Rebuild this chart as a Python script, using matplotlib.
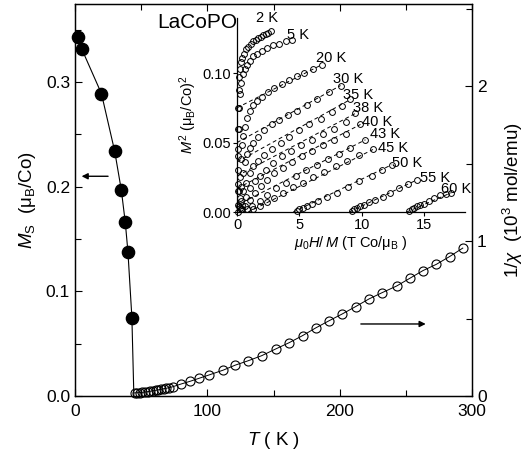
import matplotlib
matplotlib.use("Agg")
import matplotlib.pyplot as plt
import numpy as np

plt.rcParams['font.family'] = ['Liberation Sans', 'DejaVu Sans']
plt.rcParams['mathtext.fontset'] = 'custom'
plt.rcParams['mathtext.rm'] = 'Liberation Sans'
plt.rcParams['mathtext.it'] = 'Liberation Sans:italic'
plt.rcParams['mathtext.bf'] = 'Liberation Sans:bold'

# ---------------- data ----------------
# spontaneous moment Ms (left axis)
Ms_T = [2, 5, 20, 30, 35, 38, 40, 43]
Ms_val = [0.343, 0.332, 0.289, 0.234, 0.197, 0.166, 0.138, 0.075]
Ms_end_T = 44.5
Ms_end_val = 0.0

# inverse susceptibility (right axis, 10^3 mol/emu)
chi_T = [45, 47, 49, 51, 53, 55, 57, 59, 61, 63, 65, 67, 69, 71, 74, 80, 87, 94,
         101, 112, 121, 131, 141, 152, 162, 172, 182, 192, 202, 212, 222, 232,
         243, 253, 263, 273, 283, 293]
chi_inv = [0.020, 0.021, 0.022, 0.024, 0.026, 0.028, 0.031, 0.034, 0.037, 0.040,
           0.043, 0.047, 0.050, 0.054, 0.060, 0.077, 0.095, 0.115, 0.135, 0.167,
           0.199, 0.228, 0.260, 0.305, 0.345, 0.390, 0.440, 0.486, 0.530, 0.577,
           0.626, 0.667, 0.710, 0.760, 0.810, 0.850, 0.900, 0.955]

# Arrott plot (inset): mu0H/M vs M^2
arrott_labels = ['2 K', '5 K', '20 K', '30 K', '35 K', '38 K', '40 K', '43 K',
                 '45 K', '50 K', '55 K', '60 K']
arrott_X = [
    [0.05, 0.05, 0.06, 0.07, 0.08, 0.10, 0.12, 0.15, 0.20, 0.30, 0.40, 0.55, 0.70,
     0.90, 1.10, 1.30, 1.50, 1.70, 1.90, 2.10, 2.30, 2.50, 2.70],
    [0.10, 0.10, 0.12, 0.15, 0.20, 0.30, 0.45, 0.60, 0.80, 1.00, 1.30, 1.60, 2.00,
     2.40, 2.90, 3.40, 3.90, 4.40],
    [0.10, 0.15, 0.20, 0.30, 0.40, 0.50, 0.60, 0.80, 1.00, 1.30, 1.60, 2.00, 2.50,
     3.00, 3.60, 4.20, 4.80, 5.40, 6.10, 6.80],
    [0.15, 0.20, 0.30, 0.45, 0.60, 0.80, 1.00, 1.30, 1.70, 2.20, 2.80, 3.40, 4.10,
     4.80, 5.60, 6.40, 7.40, 8.30],
    [0.20, 0.30, 0.50, 0.70, 1.00, 1.30, 1.70, 2.20, 2.80, 3.50, 4.20, 5.00, 5.80,
     6.70, 7.60, 8.40, 9.10],
    [0.30, 0.40, 0.70, 1.00, 1.40, 1.80, 2.30, 2.90, 3.60, 4.30, 5.10, 6.00, 6.90,
     7.80, 8.70, 9.50],
    [0.40, 0.60, 1.00, 1.40, 1.90, 2.40, 3.00, 3.70, 4.40, 5.20, 6.00, 6.90, 7.80,
     8.70, 9.90],
    [0.80, 1.20, 1.80, 2.40, 3.10, 3.90, 4.70, 5.50, 6.40, 7.30, 8.20, 9.10, 10.30],
    [1.30, 1.80, 2.40, 3.00, 3.70, 4.50, 5.30, 6.10, 7.00, 7.90, 8.80, 9.80, 10.90],
    [4.80, 5.00, 5.30, 5.60, 6.00, 6.50, 7.20, 8.00, 8.90, 9.80, 10.80, 11.60, 12.40],
    [9.20, 9.40, 9.60, 9.90, 10.20, 10.60, 11.10, 11.70, 12.30, 13.00, 13.70, 14.40],
    [13.80, 14.00, 14.20, 14.40, 14.70, 15.00, 15.40, 15.80, 16.30, 16.80, 17.20],
]
arrott_Y = [
    [0.000, 0.015, 0.030, 0.045, 0.060, 0.075, 0.088, 0.097, 0.103, 0.108, 0.111,
     0.114, 0.117, 0.119, 0.121, 0.123, 0.124, 0.125, 0.126, 0.127, 0.128, 0.129,
     0.130],
    [0.020, 0.040, 0.060, 0.075, 0.085, 0.093, 0.099, 0.103, 0.106, 0.109, 0.112,
     0.114, 0.116, 0.118, 0.120, 0.121, 0.123, 0.124],
    [0.005, 0.015, 0.025, 0.038, 0.048, 0.055, 0.061, 0.068, 0.073, 0.077, 0.080,
     0.083, 0.086, 0.089, 0.092, 0.095, 0.098, 0.100, 0.103, 0.106],
    [0.004, 0.010, 0.018, 0.028, 0.036, 0.042, 0.046, 0.050, 0.054, 0.059, 0.063,
     0.066, 0.070, 0.073, 0.077, 0.081, 0.086, 0.091],
    [0.003, 0.008, 0.015, 0.021, 0.028, 0.033, 0.037, 0.041, 0.045, 0.050, 0.054,
     0.059, 0.063, 0.067, 0.072, 0.076, 0.081],
    [0.002, 0.005, 0.011, 0.017, 0.022, 0.026, 0.030, 0.035, 0.040, 0.044, 0.048,
     0.052, 0.056, 0.060, 0.065, 0.071],
    [0.002, 0.004, 0.009, 0.014, 0.019, 0.023, 0.028, 0.032, 0.036, 0.040, 0.044,
     0.048, 0.052, 0.056, 0.063],
    [0.002, 0.004, 0.008, 0.012, 0.017, 0.021, 0.026, 0.030, 0.034, 0.038, 0.042,
     0.046, 0.052],
    [0.002, 0.004, 0.007, 0.010, 0.014, 0.018, 0.021, 0.025, 0.029, 0.033, 0.037,
     0.041, 0.045],
    [0.001, 0.002, 0.003, 0.004, 0.006, 0.008, 0.011, 0.014, 0.018, 0.022, 0.026,
     0.030, 0.034],
    [0.001, 0.002, 0.003, 0.004, 0.005, 0.007, 0.009, 0.011, 0.014, 0.017, 0.020,
     0.023],
    [0.001, 0.002, 0.003, 0.004, 0.005, 0.006, 0.008, 0.010, 0.012, 0.013, 0.014],
]
# dashed linear fits (start X, start Y, end X, end Y)
fit_labels = ['20 K', '30 K', '35 K', '38 K', '40 K', '43 K', '45 K', '50 K', '55 K', '60 K']
fit_x0 = [0.0, 0.0, 0.0, 0.0, 0.0, 0.0, 0.9, 4.5, 9.0, 13.6]
fit_y0 = [0.075, 0.050, 0.036, 0.026, 0.017, 0.005, 0.0, 0.0, 0.0, 0.0]
fit_x1 = [6.8, 8.3, 9.1, 9.5, 9.9, 10.3, 10.9, 12.4, 14.4, 17.2]
fit_y1 = [0.106, 0.091, 0.081, 0.071, 0.063, 0.052, 0.045, 0.034, 0.023, 0.014]

# label positions for temperatures in inset (data coords)
lab_x = [1.5, 4.0, 6.3, 7.7, 8.5, 9.3, 10.0, 10.7, 11.3, 12.4, 14.7, 16.4]
lab_y = [0.1395, 0.127, 0.111, 0.096, 0.084, 0.075, 0.065, 0.056, 0.046, 0.035,
         0.0245, 0.0165]

# ---------------- figure ----------------
fig = plt.figure(figsize=(5.28, 4.61), dpi=100)
ax = fig.add_axes([0.142, 0.141, 0.752, 0.850])
ax2 = ax.twinx()

ax.plot(Ms_T + [Ms_end_T], Ms_val + [Ms_end_val], '-', color='black', lw=0.8, zorder=2)
ax.plot(Ms_T, Ms_val, 'o', color='black', ms=8.8, zorder=3, clip_on=False)

ax2.plot(chi_T, chi_inv, '-', color='black', lw=0.7, marker='o', ms=6.5,
         mfc='none', mec='black', mew=0.8, clip_on=False)

ax.set_xlim(0, 300)
ax.set_ylim(0, 0.3745)
ax2.set_ylim(0, 2.53)

ax.set_xticks([0, 100, 200, 300])
ax.set_xticks([50, 150, 250], minor=True)
ax.set_yticks([0.0, 0.1, 0.2, 0.3])
ax.set_yticks([0.05, 0.15, 0.25, 0.35], minor=True)
ax.set_yticklabels(['0.0', '0.1', '0.2', '0.3'])
ax2.set_yticks([0, 1, 2])
ax2.set_yticks([0.5, 1.5, 2.5], minor=True)

ax.tick_params(axis='both', which='both', direction='in', labelsize=12.5,
               top=True, right=False)
ax.tick_params(which='major', length=5, width=0.8)
ax.tick_params(which='minor', length=4, width=0.8)
ax.tick_params(axis='x', pad=6)
ax2.tick_params(axis='y', which='both', direction='in', labelsize=12.5, width=0.8)
ax2.tick_params(which='major', length=5)
ax2.tick_params(which='minor', length=4)
for s in list(ax.spines.values()) + list(ax2.spines.values()):
    s.set_linewidth(0.9)

ax.set_xlabel('$T$ ( K )', fontsize=13.5, labelpad=8)
ax.set_ylabel('$M_{\\rm S}$  ($\\mathrm{\\mu}_{\\rm B}$/Co)', fontsize=13.5, labelpad=6)
ax2.set_ylabel('1/$\\chi$  (10$^3$ mol/emu)', fontsize=13.5, labelpad=10)

ax.text(0.208, 0.954, 'LaCoPO', transform=ax.transAxes, fontsize=15,
        ha='left', va='center')

ax.annotate('', xy=(5, 0.21), xytext=(25, 0.21),
            arrowprops=dict(arrowstyle='-|>', color='black', lw=1.0,
                            mutation_scale=9, shrinkA=0, shrinkB=0))
ax2.annotate('', xy=(265, 0.465), xytext=(216, 0.465),
             arrowprops=dict(arrowstyle='-|>', color='black', lw=1.0,
                             mutation_scale=9, shrinkA=0, shrinkB=0))

# ---------------- inset ----------------
axi = fig.add_axes([0.449, 0.540, 0.432, 0.421])
axi.patch.set_alpha(0)
for sp in ['top', 'right']:
    axi.spines[sp].set_visible(False)
for sp in ['left', 'bottom']:
    axi.spines[sp].set_linewidth(0.9)

for x0, y0, x1, y1 in zip(fit_x0, fit_y0, fit_x1, fit_y1):
    axi.plot([x0, x1], [y0, y1], color='black', lw=0.7, ls=(0, (4, 3)))
for xs, ys in zip(arrott_X, arrott_Y):
    axi.plot(xs, ys, 'o', ms=4.2, mfc='none', mec='black', mew=0.7, clip_on=False)
for lab, lx, ly in zip(arrott_labels, lab_x, lab_y):
    axi.text(lx, ly, lab, fontsize=10.5, ha='left', va='center')

axi.set_xlim(0, 18.3)
axi.set_ylim(0, 0.1396)
axi.set_xticks([0, 5, 10, 15])
axi.set_yticks([0.0, 0.05, 0.10])
axi.set_yticklabels(['0.00', '0.05', '0.10'])
axi.tick_params(axis='both', direction='out', length=3, width=0.8, labelsize=10.5, pad=1.5)
axi.set_xlabel('$\\mu_0H/\\,M$ (T Co/$\\mathrm{\\mu}_{\\rm B}$ )', fontsize=10.5, labelpad=1)
axi.set_ylabel('$M^2$ ($\\mathrm{\\mu}_{\\rm B}$/Co)$^2$', fontsize=10.5, labelpad=2)

fig.savefig('out.png', dpi=100)
